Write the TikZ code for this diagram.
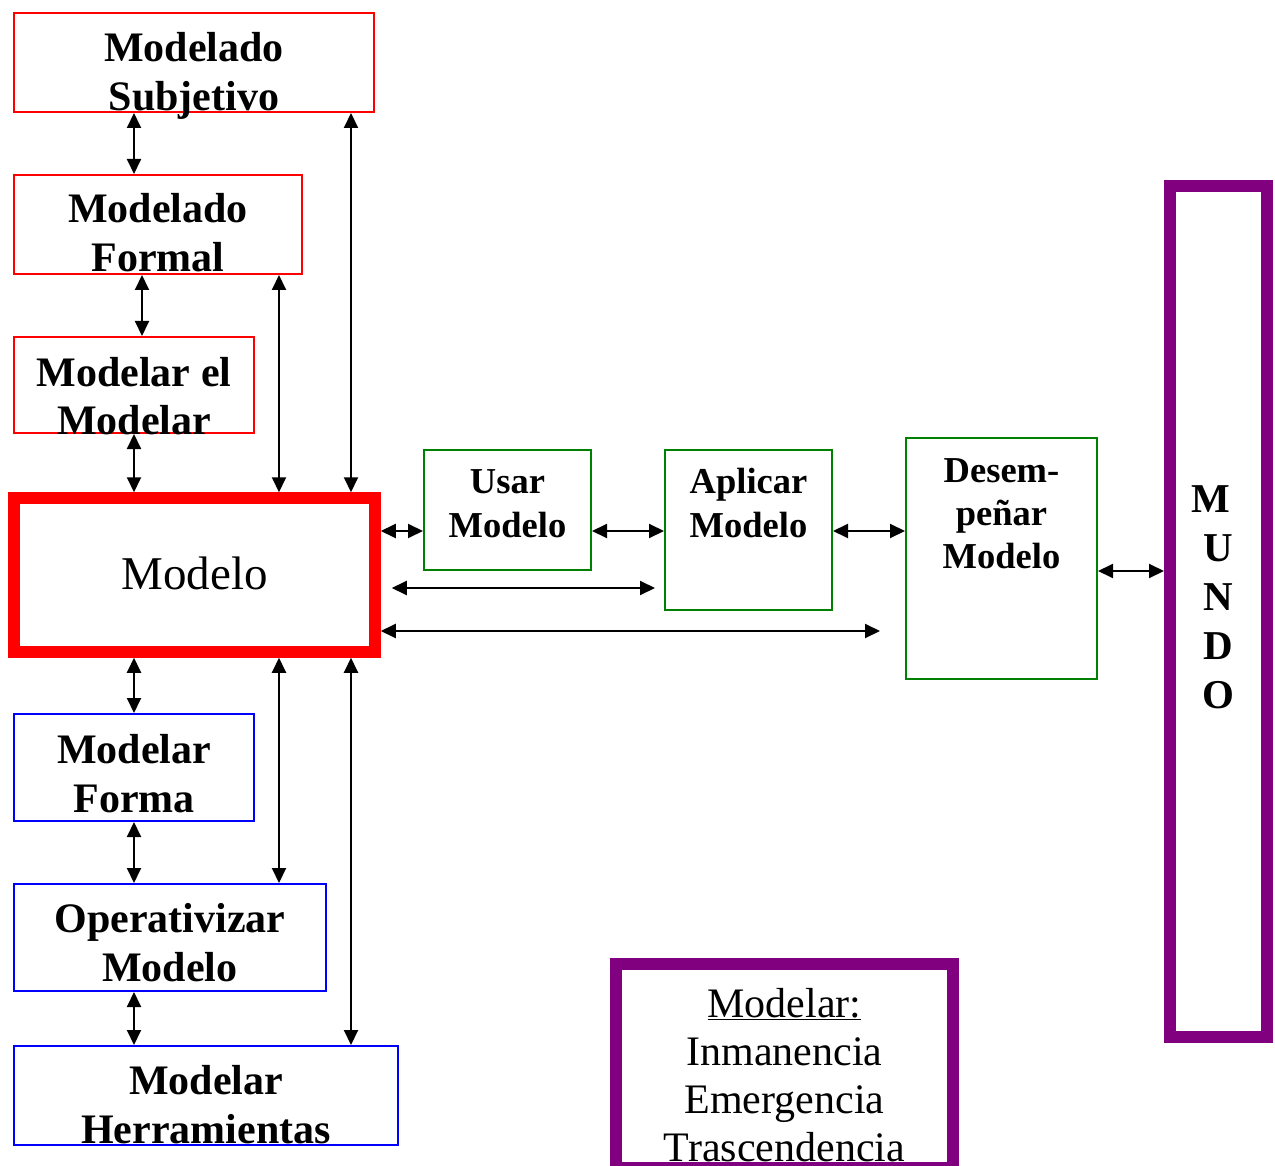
\documentclass[tikz,border=0pt]{standalone}
\usepackage{fontspec}
\setmainfont{Liberation Serif}
\usetikzlibrary{arrows.meta,positioning,calc}
\definecolor{mred}{HTML}{FF0000}
\definecolor{mgreen}{HTML}{008000}
\definecolor{mblue}{HTML}{0000FF}
\definecolor{mpurple}{HTML}{800080}

\begin{document}
\begin{tikzpicture}[x=1pt,y=-1pt,>={Triangle[length=15pt,width=14pt]},
  box/.style={draw,line width=2pt,inner sep=0pt},
  rbox/.style={box,draw=mred},
  gbox/.style={box,draw=mgreen},
  bbox/.style={box,draw=mblue},
  pbox/.style={box,draw=mpurple,line width=12pt},
  lbl/.style={font=\bfseries\fontsize{42}{49}\selectfont,align=center,anchor=base,inner sep=0pt},
  glbl/.style={lbl,font=\bfseries\fontsize{36.5}{44}\selectfont},
  link/.style={<->,line width=2pt}]
\useasboundingbox (0,0) rectangle (1275,1166);

% modelar (rojo)
\node[rbox,minimum width=360pt,minimum height=99pt] (subj) at (194,62.5) {};
\node[lbl] (subj-t) at ([yshift=-99pt]subj.north) {Modelado\\Subjetivo};
\node[rbox,minimum width=288pt,minimum height=99pt] (formal) at (158,224.5) {};
\node[lbl] (formal-t) at ([yshift=-98pt]formal.north) {Modelado\\Formal};
\node[rbox,minimum width=240pt,minimum height=96pt] (mel) at (134,385) {};
\node[lbl] (mel-t) at ([yshift=-99pt]mel.north) {Modelar el\\Modelar};

% el modelo
\node[box,draw=mred,line width=11.5pt,minimum width=361pt,minimum height=154pt] (modelo) at (194.5,575) {};
\node[lbl,font=\fontsize{47}{52}\selectfont] (modelo-t) at ([yshift=-14pt]modelo.center) {Modelo};

% modelar (azul)
\node[bbox,minimum width=240pt,minimum height=107pt] (forma) at (134,767.5) {};
\node[lbl] (forma-t) at ([yshift=-99pt]forma.north) {Modelar\\Forma};
\node[bbox,minimum width=312pt,minimum height=107pt] (oper) at (170,937.5) {};
\node[lbl] (oper-t) at ([yshift=-98pt]oper.north) {Operativizar\\Modelo};
\node[bbox,minimum width=384pt,minimum height=99pt] (herr) at (206,1095.5) {};
\node[lbl] (herr-t) at ([yshift=-98pt]herr.north) {Modelar\\Herramientas};

% usar (verde)
\node[gbox,minimum width=167pt,minimum height=120pt] (usar) at (507.5,510) {};
\node[glbl] (usar-t) at ([yshift=-88pt]usar.north) {Usar\\Modelo};
\node[gbox,minimum width=167pt,minimum height=160pt] (aplicar) at (748.5,530) {};
\node[glbl] (aplicar-t) at ([yshift=-88pt]aplicar.north) {Aplicar\\Modelo};
\node[gbox,minimum width=191pt,minimum height=241pt] (desemp) at (1001.5,558.5) {};
\node[glbl,font=\bfseries\fontsize{36.5}{43}\selectfont] (desemp-t) at ([yshift=-131pt]desemp.north) {Desem-\\peñar\\Modelo};

% mundo y leyenda
\node[pbox,minimum width=97pt,minimum height=851pt] (mundo) at (1218.5,611.5) {};
\node[lbl,font=\bfseries\fontsize{41}{49}\selectfont] (mundo-t) at ([yshift=-528pt]mundo.north) {M\kern.35em\\U\\N\\D\\O};
\node[pbox,minimum width=337pt,minimum height=204pt] (ley) at (784.5,1066) {};
\node[lbl,font=\fontsize{42}{48}\selectfont] (ley-t) at ([yshift=-203pt]ley.north) {\underline{Modelar:}\\Inmanencia\\Emergencia\\Trascendencia};

\coordinate (c1) at (134,0);
\coordinate (c2) at (279,0);
\coordinate (c3) at (351,0);
\coordinate (r1) at (0,531);
\coordinate (r2) at (0,588);
\coordinate (r3) at (0,631);
\coordinate (r4) at (0,571);

\draw[link] (subj.south -| c1) -- (formal.north -| c1);
\draw[link] ([xshift=129pt]formal.south west) -- ([xshift=129pt]mel.north west);
\draw[link] (mel.south -| c1) -- (modelo.north -| c1);
\draw[link] (formal.south -| c2) -- (modelo.north -| c2);
\draw[link] (subj.south -| c3) -- (modelo.north -| c3);
\draw[link] (modelo.south -| c1) -- (forma.north -| c1);
\draw[link] (modelo.south -| c2) -- (oper.north -| c2);
\draw[link] (modelo.south -| c3) -- (herr.north -| c3);
\draw[link] (forma.south -| c1) -- (oper.north -| c1);
\draw[link] (oper.south -| c1) -- (herr.north -| c1);
\draw[link] (modelo.east |- r1) -- (usar.west |- r1);
\draw[link] (usar.east |- r1) -- (aplicar.west |- r1);
\draw[link] (aplicar.east |- r1) -- (desemp.west |- r1);
\draw[link] ([xshift=11pt]modelo.east |- r2) -- ([xshift=-9pt]aplicar.west |- r2);
\draw[link] (modelo.east |- r3) -- ([xshift=-25pt]desemp.west |- r3);
\draw[link] (desemp.east |- r4) -- (mundo.west |- r4);
\end{tikzpicture}
\end{document}
